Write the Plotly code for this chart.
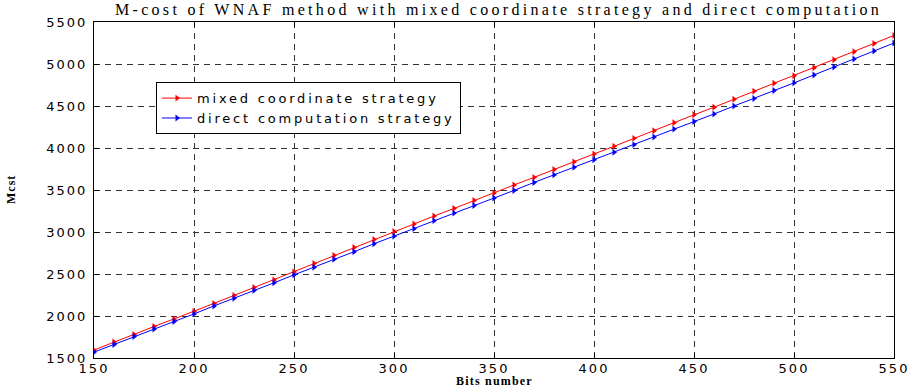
import plotly.graph_objects as go

# Key length in bits
bits = list(range(150, 551, 10))

# M-cost with mixed coordinate strategy
mixed_cost = [
    1595, 1690, 1780, 1875, 1965, 2055, 2150, 2245, 2340, 2430,
    2525, 2625, 2720, 2815, 2910, 3005, 3095, 3190, 3280, 3375,
    3465, 3560, 3650, 3745, 3835, 3930, 4020, 4115, 4205, 4300,
    4395, 4485, 4580, 4675, 4770, 4860, 4955, 5050, 5145, 5245,
    5340,
]

# M-cost with direct computation strategy
direct_cost = [
    1570, 1660, 1755, 1845, 1935, 2025, 2120, 2210, 2305, 2395,
    2490, 2580, 2675, 2765, 2860, 2950, 3040, 3135, 3225, 3315,
    3405, 3495, 3590, 3680, 3770, 3860, 3950, 4040, 4130, 4225,
    4315, 4405, 4500, 4590, 4685, 4775, 4870, 4965, 5060, 5155,
    5250,
]

x_ticks = [150, 200, 250, 300, 350, 400, 450, 500, 550]
y_ticks = [1500, 2000, 2500, 3000, 3500, 4000, 4500, 5000, 5500]

SANS = "DejaVu Sans"
SERIF = "Liberation Serif"


def spaced(text, px):
    """Wrap text in a span with extra letter spacing."""
    return f'<span style="letter-spacing:{px}px">{text}</span>'


fig = go.Figure()
fig.add_trace(go.Scatter(
    x=bits, y=mixed_cost, mode="lines+markers",
    name=spaced("mixed coordinate strategy", 2.8),
    line=dict(color="#ff0000", width=1),
    marker=dict(symbol="triangle-right", size=6, color="#ff0000"),
))
fig.add_trace(go.Scatter(
    x=bits, y=direct_cost, mode="lines+markers",
    name=spaced("direct computation strategy", 2.8),
    line=dict(color="#0000ff", width=1),
    marker=dict(symbol="triangle-right", size=6, color="#0000ff"),
))

axis_common = dict(
    showline=True, linecolor="black", linewidth=1, mirror="ticks",
    ticks="inside", ticklen=5, tickcolor="black", tickwidth=1,
    showgrid=True, gridcolor="#333333", gridwidth=1, griddash="6px,5px",
    zeroline=False,
    tickfont=dict(family=SANS, size=13, color="black"),
)

fig.update_xaxes(range=[150, 550], tickvals=x_ticks,
                 ticktext=[spaced(str(v), 2) for v in x_ticks],
                 ticklabelstandoff=-2, **axis_common)
fig.update_yaxes(range=[1500, 5500], tickvals=y_ticks,
                 ticktext=[spaced(str(v), 2) for v in y_ticks],
                 ticklabelstandoff=3, **axis_common)

fig.update_layout(
    width=920, height=390,
    margin=dict(l=94, r=26, t=22, b=32),
    paper_bgcolor="white", plot_bgcolor="white",
    title=dict(
        text=spaced("M-cost of WNAF method with mixed coordinate strategy "
                    "and direct computation", 3.3),
        x=21 / 800, xref="paper", xanchor="left",
        y=1 - 9 / 390, yanchor="middle",
        font=dict(family=SERIF, size=16, color="black"),
    ),
    legend=dict(
        x=0.0775, y=0.821, xanchor="left", yanchor="top",
        bgcolor="white", bordercolor="black", borderwidth=1,
        font=dict(family=SANS, size=13, color="black"),
        tracegroupgap=0, itemwidth=30,
    ),
    showlegend=True,
    annotations=[
        dict(text=spaced("<b>Bits number</b>", 1.2), xref="paper",
             yref="paper", x=0.5, y=-32 / 336, yanchor="bottom",
             showarrow=False,
             font=dict(family=SERIF, size=12, color="black")),
        dict(text=spaced("<b>Mcst</b>", 1), xref="paper", yref="paper",
             x=-92 / 800, y=(358 - 190) / 336, textangle=-90,
             showarrow=False,
             font=dict(family=SERIF, size=12, color="black")),
    ],
)

fig.write_html("out.html")
